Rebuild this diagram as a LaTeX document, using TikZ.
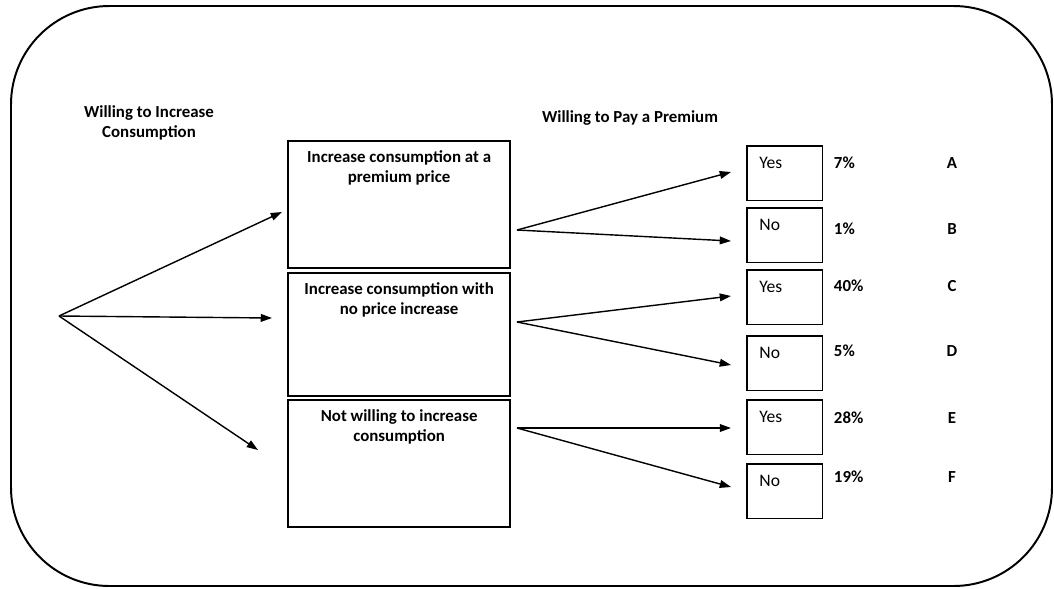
\documentclass[tikz,border=0pt]{standalone}
\usepackage{fontspec}
\setmainfont{Carlito}
\usetikzlibrary{positioning,arrows.meta}

\begin{document}
\begin{tikzpicture}[x=0.025cm, y=-0.025cm, >={Triangle[length=8pt,width=5.5pt]}]
    \useasboundingbox (0,0) rectangle (1054,588);
    \draw[line width=1.4pt, rounded corners=70pt] (11,6) rectangle (1052,586);

    \begin{scope}[every node/.style={font=\fontsize{12}{14}\selectfont\bfseries, align=center}]
        \node (t1) at (149,123) {Willing to Increase\\Consumption};
        \node (t2) at (630,118) {Willing to Pay a Premium};
    \end{scope}

    % big boxes
    \begin{scope}[every node/.style={draw, line width=1.5pt, minimum width=158pt, anchor=north west, inner sep=0pt}]
        \node[minimum height=90pt] (b1) at (287,140) {};
        \node[minimum height=87.5pt] (b2) at (287,272) {};
        \node[minimum height=90pt] (b3) at (287,399) {};
    \end{scope}

    \begin{scope}[every node/.style={font=\fontsize{12}{14}\selectfont\bfseries, align=center}]
        \node[below=4pt of b1.north] (l1) {Increase consumption at a\\premium price};
        \node[below=4pt of b2.north] (l2) {Increase consumption with\\no price increase};
        \node[below=4pt of b3.north] (l3) {Not willing to increase\\consumption};
    \end{scope}

    % small boxes
    \foreach \y/\ty/\ans/\pct/\lab [count=\i] in {145/163/Yes/7/A,207/229/No/1/B,269/286/Yes/40/C,335/351/No/5/D,399/418/Yes/28/E,463/477/No/19/F}{
        \node[draw, line width=1.1pt, minimum width=54pt, minimum height=39pt, anchor=north west, inner sep=0pt] (s\i) at (746,\y) {};
        \node[font=\fontsize{12.5}{14}\selectfont, below right=5.5pt and 6pt of s\i.north west] (a\i) {\ans};
        \node[font=\fontsize{12}{14}\selectfont\bfseries, anchor=west] (p\i) at (829,\ty) {\pct\%};
        \node[font=\fontsize{12}{14}\selectfont\bfseries] (c\i) at (952,\ty) {\lab};
    }

    % arrows
    \coordinate (o) at (59,316);
    \coordinate (e1) at (282,212);
    \coordinate (e2) at (272,318);
    \coordinate (e3) at (258,450);
    \coordinate (r1) at (517,230);
    \coordinate (r2) at (517,322);
    \coordinate (r3) at (517,428);
    \coordinate (f1) at (731,172);
    \coordinate (f2) at (731,241);
    \coordinate (f3) at (731,296);
    \coordinate (f4) at (731,365);
    \coordinate (f5) at (731,428);
    \coordinate (f6) at (731,487);

    \foreach \j in {1,2,3}
        \draw[->, line width=1pt] (o) -- (e\j);
    \foreach \i/\j in {1/1,1/2,2/3,2/4,3/5,3/6}
        \draw[->, line width=1pt] (r\i) -- (f\j);
\end{tikzpicture}
\end{document}
